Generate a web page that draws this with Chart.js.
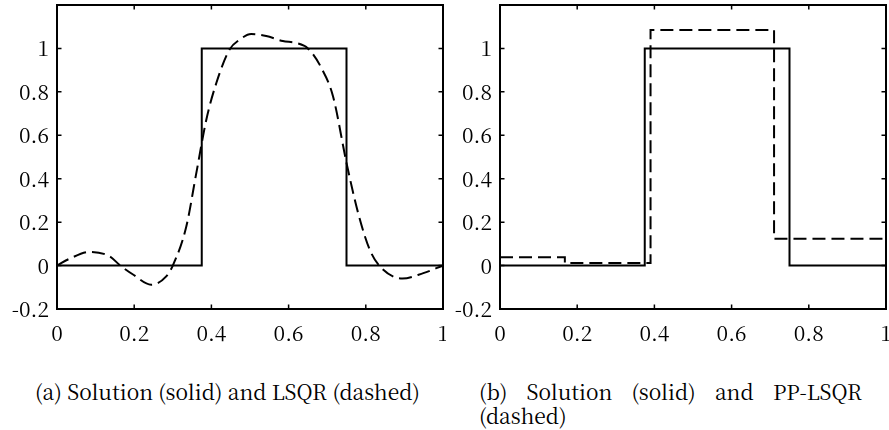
<!DOCTYPE html>
<html><head><meta charset="utf-8">
<script src="https://cdn.jsdelivr.net/npm/chart.js@4.4.0/dist/chart.umd.min.js"></script>
<style>
html,body{margin:0;padding:0;background:#fff;width:889px;height:430px;overflow:hidden;}
.wrap{position:absolute;top:0;height:345px;}
#wa{left:0;width:446px;}
#wb{left:442px;width:447px;}
.cap{position:absolute;font-family:"Noto Serif CJK SC","Liberation Serif",serif;font-size:21px;line-height:24px;color:#000;white-space:nowrap;}
#capa{left:35px;top:379px;}
#capb1{left:479px;top:379px;width:383px;text-align:justify;text-align-last:justify;white-space:normal;}
#capb2{left:479px;top:403px;}
</style></head>
<body>
<div class="wrap" id="wa"><canvas id="ca"></canvas></div>
<div class="wrap" id="wb"><canvas id="cb"></canvas></div>
<div class="cap" id="capa">(a) Solution (solid) and LSQR (dashed)</div>
<div class="cap" id="capb1">(b) Solution (solid) and PP-LSQR</div>
<div class="cap" id="capb2">(dashed)</div>
<script>
// ---- data ----
const xTicks = [0, 0.2, 0.4, 0.6, 0.8, 1];
const xTickLabels = ['0', '0.2', '0.4', '0.6', '0.8', '1'];
const yTicks = [-0.2, 0, 0.2, 0.4, 0.6, 0.8, 1];
const yTickLabels = ['-0.2', '0', '0.2', '0.4', '0.6', '0.8', '1'];

const solidX = [0, 0.375, 0.375, 0.75, 0.75, 1];
const solidY = [0, 0, 1, 1, 0, 0];

const lsqrX = [0, 0.032, 0.085, 0.136, 0.164, 0.197, 0.244, 0.283, 0.300, 0.335, 0.361, 0.387, 0.413, 0.447, 0.473, 0.503, 0.542, 0.585, 0.620, 0.650, 0.685, 0.715, 0.750, 0.780, 0.810, 0.836, 0.895, 0.949, 1.0];
const lsqrY = [0, 0.031, 0.063, 0.043, 0.0, -0.041, -0.088, -0.05, 0.0, 0.18, 0.427, 0.673, 0.842, 0.995, 1.04, 1.066, 1.057, 1.034, 1.025, 1.0, 0.91, 0.78, 0.473, 0.243, 0.074, -0.003, -0.06, -0.035, 0.0];

const ppX = [0, 0.168, 0.168, 0.39, 0.39, 0.71, 0.71, 1];
const ppY = [0.038, 0.038, 0.012, 0.012, 1.085, 1.085, 0.123, 0.123];

const X_MIN = 0, X_MAX = 1, Y_MIN = -0.2, Y_MAX = 1.2;

// ---- helpers ----
const pts = (xs, ys) => xs.map((x, i) => ({x, y: ys[i]}));
const FAMILY = '"Noto Serif CJK SC", "Liberation Serif", serif';
const FONT = {family: FAMILY, size: 21};

const framePlugin = {
  id: 'frame',
  afterDatasetsDraw(chart) {
    const {ctx, chartArea: a, scales: {x, y}} = chart;
    ctx.save();
    ctx.strokeStyle = '#000';
    ctx.lineWidth = 1.5;
    const L = 4.5;
    ctx.beginPath();
    x.ticks.forEach(t => {
      const p = x.getPixelForValue(t.value);
      ctx.moveTo(p, a.bottom); ctx.lineTo(p, a.bottom - L);
      ctx.moveTo(p, a.top); ctx.lineTo(p, a.top + L);
    });
    y.ticks.forEach(t => {
      const p = y.getPixelForValue(t.value);
      ctx.moveTo(a.left, p); ctx.lineTo(a.left + L, p);
      ctx.moveTo(a.right, p); ctx.lineTo(a.right - L, p);
    });
    ctx.stroke();
    ctx.lineWidth = 2;
    ctx.strokeRect(a.left, a.top, a.right - a.left, a.bottom - a.top);
    ctx.restore();
  }
};

function makeChart(id, datasets, yWidth) {
  return new Chart(document.getElementById(id), {
    type: 'line',
    data: {datasets},
    options: {
      responsive: true,
      maintainAspectRatio: false,
      animation: false,
      layout: {padding: {top: 5, right: 3, left: 0, bottom: 0}},
      plugins: {legend: {display: false}, tooltip: {enabled: false}},
      elements: {point: {radius: 0}},
      scales: {
        x: {
          type: 'linear', min: X_MIN, max: X_MAX,
          grid: {display: false, drawTicks: false},
          border: {display: false},
          afterBuildTicks: s => { s.ticks = xTicks.map(v => ({value: v})); },
          afterFit: s => { s.height = 36; s.paddingLeft = 0; s.paddingRight = 0; },
          ticks: {
            color: '#000', font: FONT, padding: 11, maxRotation: 0, autoSkip: false,
            callback: (v) => { const i = xTicks.findIndex(t => Math.abs(t - v) < 1e-9); return i >= 0 ? xTickLabels[i] : ''; }
          }
        },
        y: {
          type: 'linear', min: Y_MIN, max: Y_MAX,
          grid: {display: false, drawTicks: false},
          border: {display: false},
          afterBuildTicks: s => { s.ticks = yTicks.map(v => ({value: v})); },
          afterFit: s => { s.width = yWidth; s.paddingTop = 0; s.paddingBottom = 0; },
          ticks: {
            color: '#000', font: FONT, padding: 8, autoSkip: false,
            callback: (v) => { const i = yTicks.findIndex(t => Math.abs(t - v) < 1e-9); return i >= 0 ? yTickLabels[i] : ''; }
          }
        }
      }
    },
    plugins: [framePlugin]
  });
}

const solidDs = () => ({data: pts(solidX, solidY), borderColor: '#000', borderWidth: 2, tension: 0, fill: false});

function build() {
  makeChart('ca', [
    solidDs(),
    {data: pts(lsqrX, lsqrY), borderColor: '#000', borderWidth: 2, borderDash: [13, 6], cubicInterpolationMode: 'monotone', fill: false}
  ], 57);

  makeChart('cb', [
    solidDs(),
    {data: pts(ppX, ppY), borderColor: '#000', borderWidth: 2, borderDash: [13, 6], tension: 0, fill: false}
  ], 58);

  const c = document.createElement('canvas').getContext('2d');
  c.font = '21px ' + FAMILY;
  const txt = document.getElementById('capa').textContent;
  const w = c.measureText(txt).width;
  const ls = (385 - w) / txt.length;
  ['capa', 'capb1', 'capb2'].forEach(id => document.getElementById(id).style.letterSpacing = ls.toFixed(2) + 'px');
}

if (document.fonts && document.fonts.load) {
  document.fonts.load('21px "Noto Serif CJK SC"').then(build, build);
} else {
  build();
}
</script>
</body></html>
